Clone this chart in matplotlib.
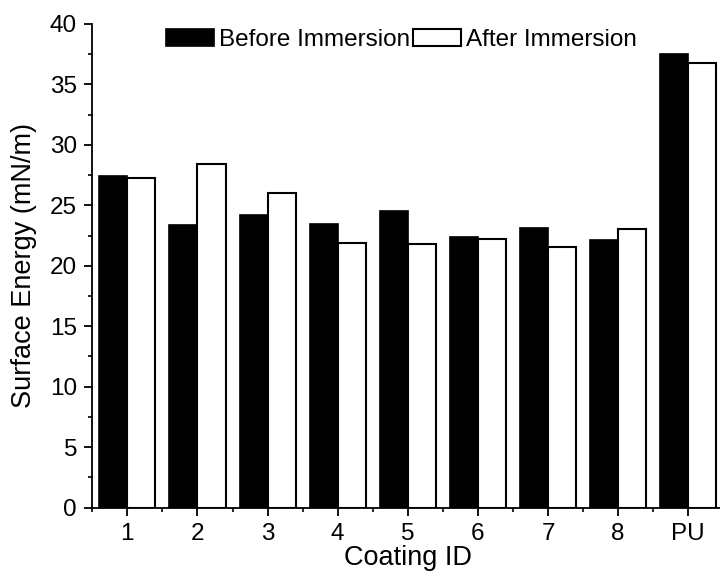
import matplotlib
matplotlib.use('Agg')
import matplotlib.pyplot as plt
from matplotlib.ticker import MultipleLocator, FixedLocator
import numpy as np

plt.rcParams['font.family'] = ['Liberation Sans', 'DejaVu Sans']

coatings = ['1', '2', '3', '4', '5', '6', '7', '8', 'PU']
before = [27.45, 23.4, 24.2, 23.45, 24.55, 22.4, 23.15, 22.1, 37.55]
after = [27.25, 28.45, 26.05, 21.85, 21.8, 22.25, 21.55, 23.05, 36.8]

x = np.arange(1, len(coatings) + 1)
w = 0.4

fig = plt.figure(figsize=(7.2, 5.72), dpi=100)
ax = fig.add_axes([92.3 / 720, 1 - 507.5 / 572, 631 / 720, (507.5 - 24) / 572])

ax.bar(x - w / 2, before, w, color='black', edgecolor='black', linewidth=1.2,
       label='Before Immersion')
ax.bar(x + w / 2, after, w, color='white', edgecolor='black', linewidth=1.5,
       label='After Immersion')

ax.set_xlim(0.5, 9.5)
ax.set_ylim(0, 40)
ax.set_xticks(x)
ax.set_xticklabels(coatings)
ax.xaxis.set_minor_locator(FixedLocator(np.arange(0.5, 10, 1)))
ax.yaxis.set_major_locator(MultipleLocator(5))
ax.yaxis.set_minor_locator(MultipleLocator(2.5))

for s in ['top', 'right']:
    ax.spines[s].set_visible(False)
for s in ['left', 'bottom']:
    ax.spines[s].set_linewidth(1.3)

ax.tick_params(which='major', direction='out', length=6, width=1.3, labelsize=17.5)
ax.tick_params(axis='y', which='major', pad=5)
ax.tick_params(axis='x', which='major', pad=5)
ax.tick_params(which='minor', direction='out', length=3, width=1.2)

ax.set_ylabel('Surface Energy (mN/m)', fontsize=19.5, labelpad=9)
ax.set_xlabel('Coating ID', fontsize=19.5, labelpad=0)

ax.legend(loc='upper center', bbox_to_anchor=(0.49, 1.035), ncol=2, frameon=False,
          fontsize=17.5, handlelength=2.0, handleheight=0.7, handletextpad=0.2,
          columnspacing=0.1)

plt.savefig('out.png', dpi=100)
